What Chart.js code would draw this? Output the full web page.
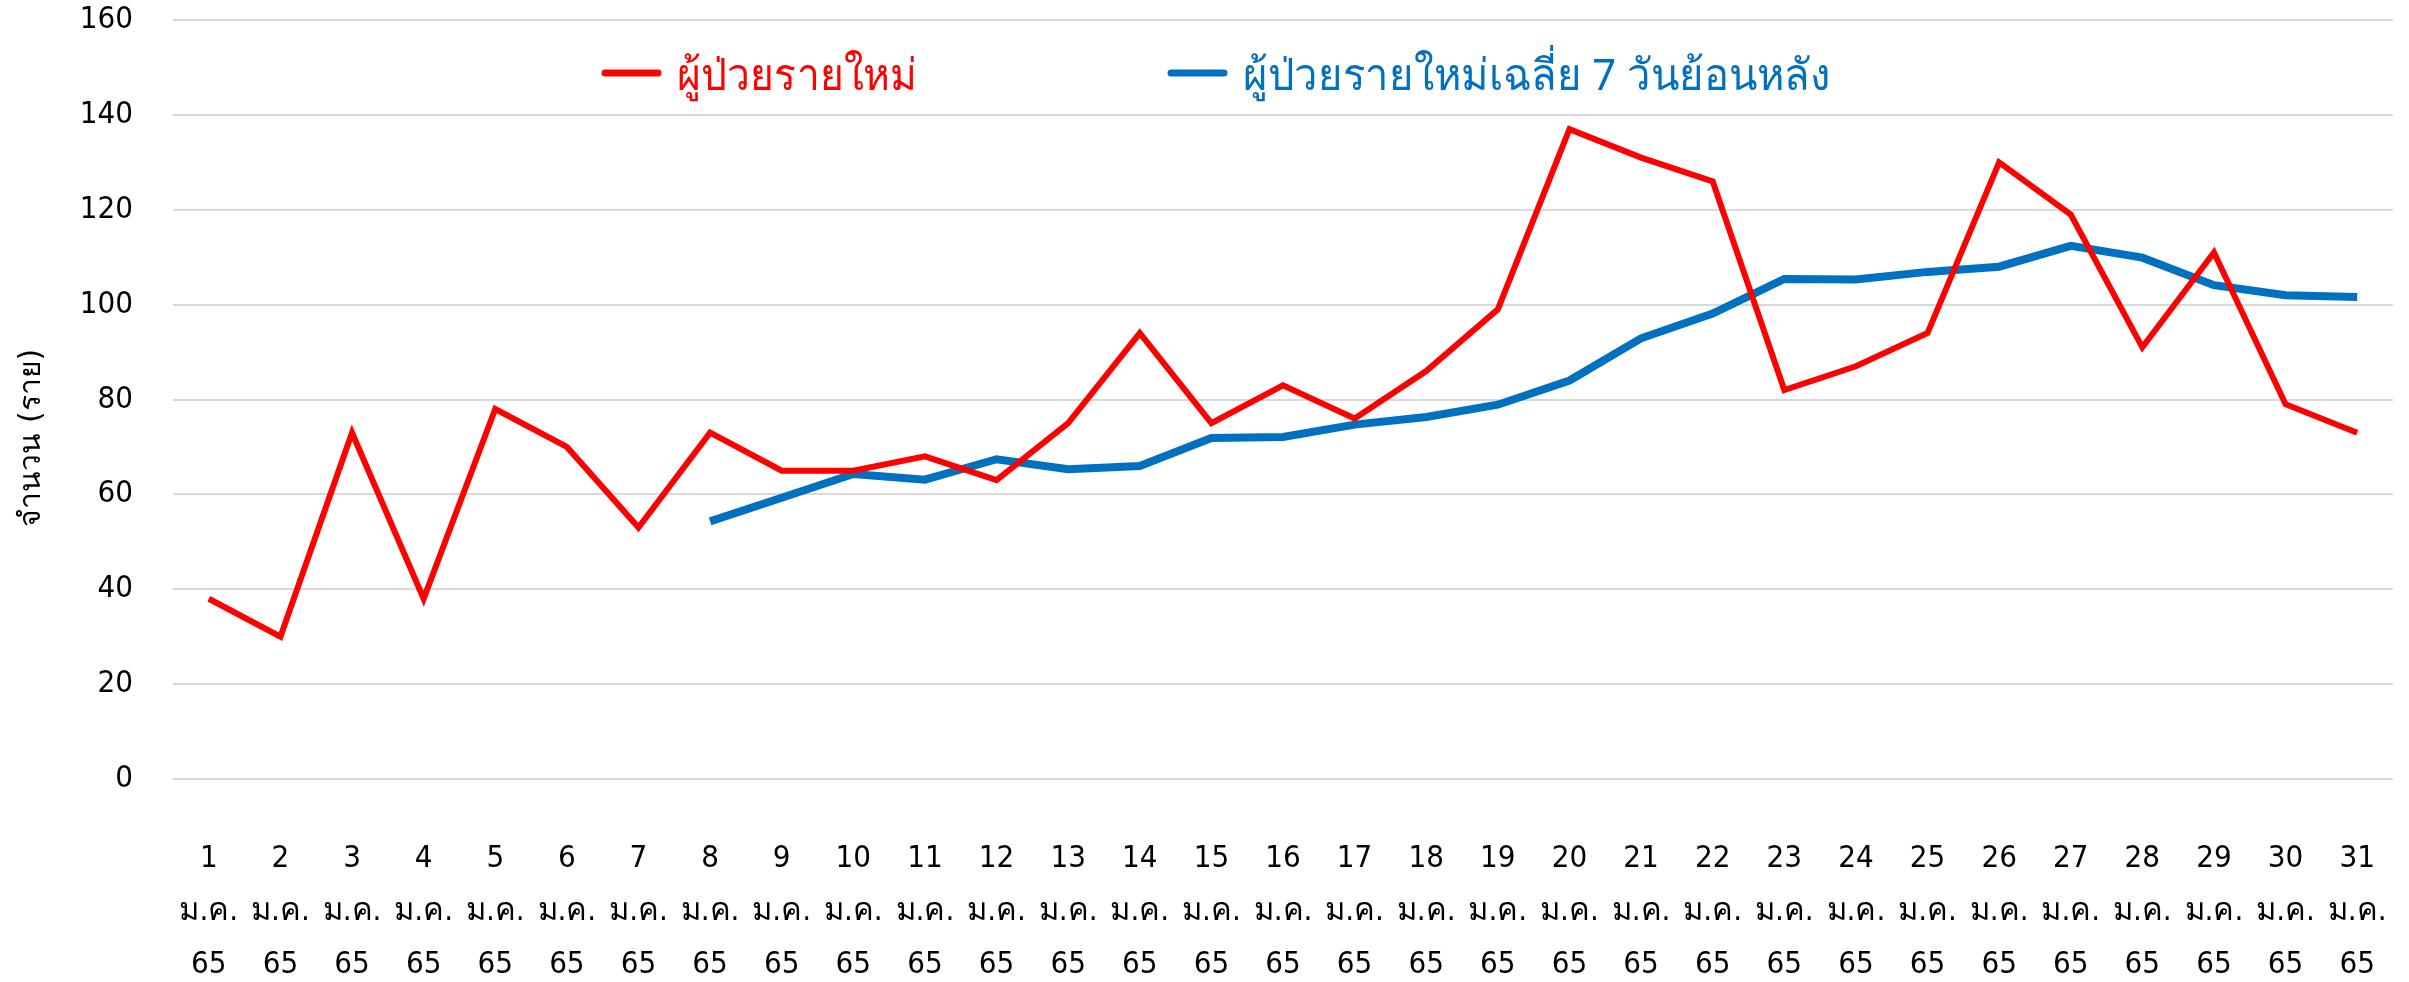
<!DOCTYPE html>
<html>
<head>
<meta charset="utf-8">
<script src="https://cdn.jsdelivr.net/npm/chart.js@4/dist/chart.umd.min.js"></script>
<style>
  html, body { margin: 0; padding: 0; background: #fff; }
  #wrap { width: 2409px; height: 982px; }
</style>
</head>
<body>
<div id="wrap"><canvas id="c"></canvas></div>
<script>
const days = ['1','2','3','4','5','6','7','8','9','10','11','12','13','14','15','16',
              '17','18','19','20','21','22','23','24','25','26','27','28','29','30','31'];
const newCases = [38, 30, 73, 38, 78, 70, 53, 73, 65, 65, 68, 63, 75, 94, 75, 83,
                  76, 86, 99, 137, 131, 126, 82, 87, 94, 130, 119, 91, 111, 79, 73];
const avg7 = [null, null, null, null, null, null, null, 54.3, 59.3, 64.3, 63.1, 67.4, 65.3, 66.0, 71.9, 72.1,
              74.7, 76.3, 78.9, 84.0, 92.9, 98.1, 105.4, 105.3, 106.9, 108.0, 112.4, 109.9, 104.1, 102.0, 101.6];
const yTicks = [0, 20, 40, 60, 80, 100, 120, 140, 160];

const redName = 'ผู้ป่วยรายใหม่';
const blueName = 'ผู้ป่วยรายใหม่เฉลี่ย 7 วันย้อนหลัง';

const tickFont = {family: "'DejaVu Sans Condensed', 'DejaVu Sans', sans-serif", size: 31};

// legend sits inside the plot, drawn by hand
const insideLegend = {
  id: 'insideLegend',
  afterDraw(chart){
    const ctx = chart.ctx;
    const y = 73;
    const items = [
      {x: 602, color: '#FF0000', text: redName, w: 240},
      {x: 1168, color: '#0070C0', text: blueName, w: 587}
    ];
    ctx.save();
    ctx.font = "44px 'Noto Sans', sans-serif";
    ctx.textBaseline = 'middle';
    items.forEach(it => {
      ctx.strokeStyle = it.color;
      ctx.lineWidth = 7;
      ctx.lineCap = 'round';
      ctx.beginPath();
      ctx.moveTo(it.x + 3, y);
      ctx.lineTo(it.x + 56, y);
      ctx.stroke();
      ctx.fillStyle = it.color;
      ctx.fillText(it.text, it.x + 75, y + 4, it.w);
    });
    ctx.restore();
  }
};

new Chart(document.getElementById('c').getContext('2d'), {
  type: 'line',
  data: {
    labels: days.map(d => [d, 'ม.ค.', '65']),
    datasets: [
      {label: redName, data: newCases, borderColor: '#FF0000', backgroundColor: '#FF0000',
       borderWidth: 6, pointRadius: 0, tension: 0},
      {label: blueName, data: avg7, borderColor: '#0070C0', backgroundColor: '#0070C0',
       borderWidth: 8, pointRadius: 0, tension: 0}
    ]
  },
  options: {
    responsive: true,
    maintainAspectRatio: false,
    animation: false,
    layout: {padding: {top: 20, left: 0, right: 16, bottom: 0}},
    plugins: {
      legend: {display: false},
      tooltip: {enabled: false}
    },
    scales: {
      x: {
        offset: true,
        grid: {display: false},
        border: {display: false},
        ticks: {color: '#000', font: {...tickFont, lineHeight: '53px'}, maxRotation: 0, autoSkip: false, padding: 45},
        afterFit: s => { s.paddingLeft = 0; s.paddingRight = 0; s.height = 203; }
      },
      y: {
        min: 0, max: 160,
        afterBuildTicks: s => { s.ticks = yTicks.map(v => ({value: v})); },
        grid: {color: '#D9D9D9', lineWidth: 2, drawTicks: false},
        border: {display: false},
        ticks: {color: '#000', font: tickFont, padding: 40},
        title: {display: true, text: 'จำนวน (ราย)        ', color: '#000',
                font: {family: "'DejaVu Sans', sans-serif", size: 30}, padding: {top: 14, bottom: 30}},
        afterFit: s => { s.paddingTop = 0; s.paddingBottom = 0; s.width = 173; }
      }
    }
  },
  plugins: [insideLegend]
});
</script>
</body>
</html>
